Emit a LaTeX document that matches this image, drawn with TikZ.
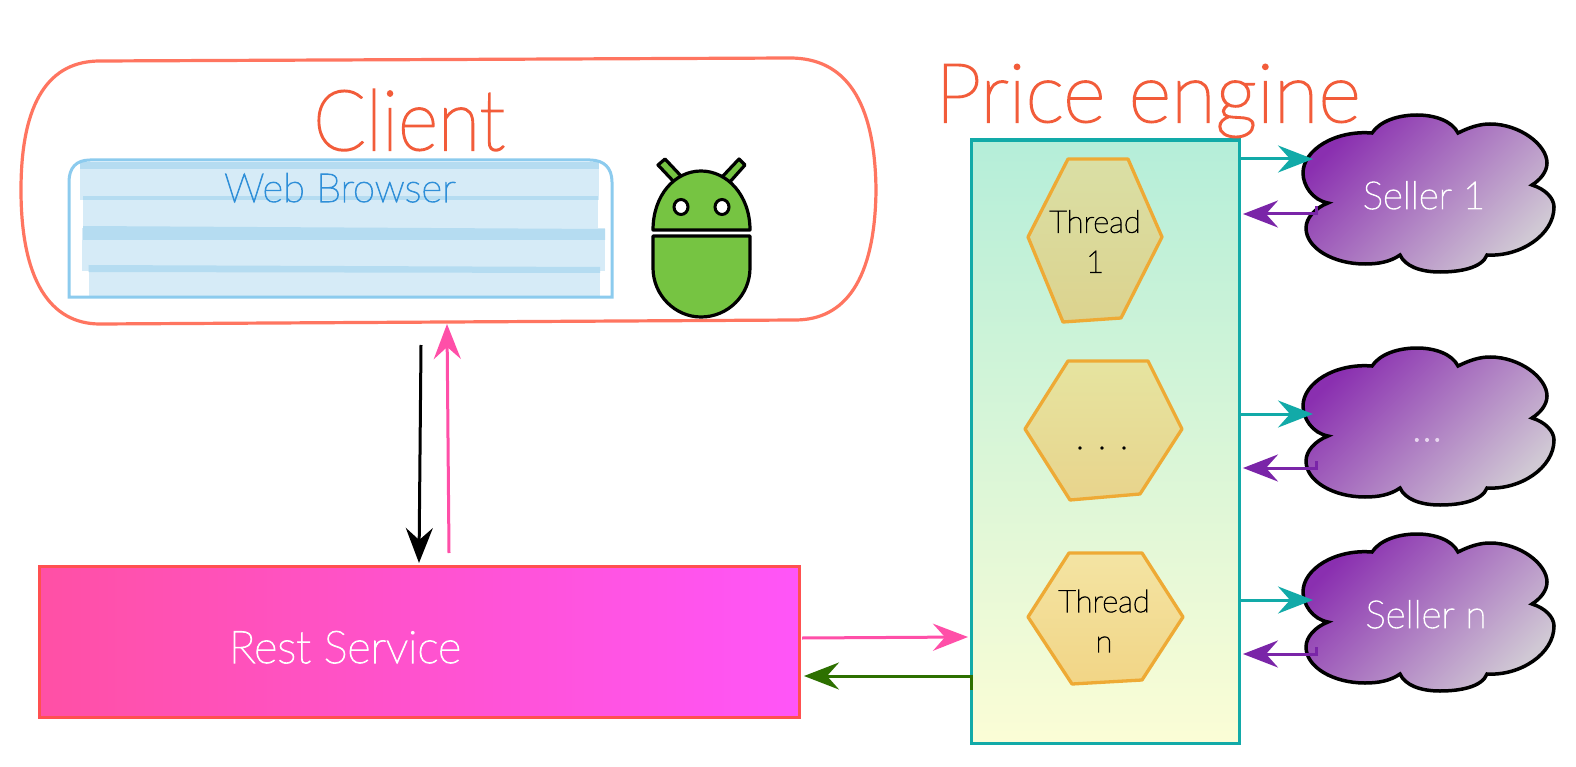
\documentclass[tikz,border=0pt]{standalone}
\usepackage{fontspec}
\setmainfont{Lato Thin}[FakeBold=2.5]
\usetikzlibrary{arrows.meta}
\definecolor{titlered}{HTML}{F25C3A}
\definecolor{clientline}{HTML}{FF7560}
\definecolor{webline}{HTML}{8CCBEE}
\definecolor{weblight}{HTML}{D6EBF7}
\definecolor{webdark}{HTML}{B5DCF1}
\definecolor{webtext}{HTML}{2F8FD8}
\definecolor{droid}{HTML}{76C442}
\definecolor{teal}{HTML}{12AAA8}
\definecolor{hexline}{HTML}{EEAA35}
\definecolor{pinkline}{HTML}{FF4FA8}
\definecolor{greenline}{HTML}{2D7000}
\definecolor{purpleline}{HTML}{7A25A8}
\definecolor{cloudA}{HTML}{8A2FB0}
\definecolor{cloudB}{HTML}{D0C8D4}
\definecolor{TopEng}{HTML}{B5EED9}
\definecolor{BotEng}{HTML}{FBFDD6}
\definecolor{HexAa}{HTML}{DADFA5}
\definecolor{HexAb}{HTML}{DCD38E}
\definecolor{HexBa}{HTML}{E6E4A0}
\definecolor{HexBb}{HTML}{E8D48C}
\definecolor{HexCa}{HTML}{F3E4A3}
\definecolor{HexCb}{HTML}{F2D586}
\definecolor{restline}{HTML}{FF5050}
\definecolor{restA}{HTML}{FF50A5}
\definecolor{restB}{HTML}{FF55F8}
\tikzset{
  bigarrow/.style={line width=3pt,-{Stealth[length=35pt,width=27pt,inset=12pt]}},
  hexbox/.style={draw=hexline,line width=3.3pt,line join=round},
  hexlabel/.style={align=center,font=\fontsize{31}{40}\selectfont,text=black},
  sellerlabel/.style={font=\fontsize{38.5}{44}\selectfont,text=white},
  cloudbox/.style={draw=black,line width=3.5pt,left color=cloudA,right color=cloudB,shading angle=45},
  droidpart/.style={draw=black,line width=3.2pt,fill=droid,line join=round},
  tick/.style={line width=3pt}
}
\newcommand{\cloudshape}{%
  (1372,133) .. controls (1380,121) and (1398,115) .. (1417,115)
  .. controls (1435,115) and (1452,121) .. (1458,133)
  .. controls (1470,127) and (1480,124) .. (1490,124)
  .. controls (1520,124) and (1547,145) .. (1547,163)
  .. controls (1547,172) and (1540,180) .. (1532,185)
  .. controls (1545,189) and (1554,198) .. (1554,207)
  .. controls (1554,235) and (1520,257) .. (1487,255)
  .. controls (1482,268) and (1460,272) .. (1440,272)
  .. controls (1420,272) and (1405,266) .. (1400,255)
  .. controls (1390,262) and (1378,264) .. (1365,264)
  .. controls (1333,264) and (1306,248) .. (1306,228)
  .. controls (1306,218) and (1315,208) .. (1328,203)
  .. controls (1312,200) and (1303,185) .. (1303,173)
  .. controls (1303,150) and (1335,130) .. (1372,133) -- cycle}
\begin{document}
\begin{tikzpicture}[x=1pt,y=-1pt]
\useasboundingbox (0,0) rectangle (1576,767);
\fill[white] (0,0) rectangle (1576,767);

% Client
\draw[clientline,line width=3.2pt]
  (100,61) -- (790,58)
  .. controls (845,58) and (875,100) .. (876,190)
  .. controls (875,280) and (845,320) .. (795,320)
  -- (100,324)
  .. controls (50,324) and (21,280) .. (21,190)
  .. controls (21,100) and (50,61) .. (100,61) -- cycle;
\coordinate (clientbottom) at (447,324);
\node[font=\fontsize{84}{90}\selectfont,text=titlered,anchor=base,xscale=.92] (clienttitle) at (409,150) {Client};

% Web browser
\fill[weblight] (80,163) rectangle (599,200);
\fill[weblight] (83,200) rectangle (598,228);
\fill[weblight] (82,228) rectangle (605,271);
\fill[weblight] (88.5,271) rectangle (600,297);
\fill[webdark] (80,162) rectangle (599,169);
\fill[webdark] (83,196) rectangle (598,200);
\fill[webdark] (83,226) -- (605,229) -- (605,240) -- (83,240) -- cycle;
\fill[webdark] (88.5,265) -- (600,267) -- (600,273) -- (88.5,272) -- cycle;
\draw[webline,line width=3pt] (69,297) -- (69,182) .. controls (69,168) and (76,160) .. (90,160)
  -- (590,160) .. controls (604,160) and (612,168) .. (612,182) -- (612,297) -- cycle;
\node[font=\fontsize{40}{44}\selectfont,text=webtext,anchor=base] (web) at (340,202) {Web Browser};

% Android
\draw[droidpart] (658,165) -- (665,159) -- (682,177) -- (675,183) -- cycle;
\draw[droidpart] (745,165) -- (739,159) -- (722,177) -- (729,183) -- cycle;
\draw[droidpart] (653,230) .. controls (653,195) and (675,171) .. (701,171)
  .. controls (727,171) and (750,195) .. (750,230) -- cycle;
\draw[droidpart] (653,236) -- (750,236) -- (750,268)
  .. controls (750,295) and (728,317) .. (701,317)
  .. controls (675,317) and (653,295) .. (653,268) -- cycle;
\draw[draw=black,line width=3pt,fill=white] (681,207) ellipse[x radius=7,y radius=7.5];
\draw[draw=black,line width=3pt,fill=white] (722,207) ellipse[x radius=7,y radius=7.5];

% Rest service
\node[draw=restline,line width=3.2pt,left color=restA,right color=restB,
  minimum width=760pt,minimum height=151pt,inner sep=0pt,anchor=north west] (rest) at (37.5,565) {};
\node[font=\fontsize{45}{48}\selectfont,text=white,anchor=base] (resttext) at (345,663) {Rest Service};

% Price engine
\node[draw=teal,line width=3.2pt,top color=TopEng,bottom color=BotEng,
  minimum width=268pt,minimum height=603pt,inner sep=0pt,anchor=north west] (engine) at (970,138.5) {};
\node[font=\fontsize{82}{86}\selectfont,text=titlered,anchor=base] (enginetitle) at (1148,122) {Price engine};

% Threads
\draw[hexbox,top color=HexAa,bottom color=HexAb]
  (1028,237) -- (1068,159) -- (1128,159) -- (1162,237) -- (1121,318) -- (1063,322) -- cycle;
\node[hexlabel] (thread1) at (1095,241.5) {Thread\\1};
\draw[hexbox,top color=HexBa,bottom color=HexBb]
  (1025,429) -- (1068,361) -- (1148,361) -- (1182,429) -- (1140,494) -- (1070,500) -- cycle;
\node[hexlabel,font=\fontsize{36}{40}\selectfont] (threaddots) at (1102,448) {. . .};
\draw[hexbox,top color=HexCa,bottom color=HexCb]
  (1028,617) -- (1069,553) -- (1142,553) -- (1183,617) -- (1142,680) -- (1072,684) -- cycle;
\node[hexlabel] (threadn) at (1104,621) {Thread\\n};

% Sellers
\path[cloudbox] \cloudshape;
\node[sellerlabel,anchor=base] (seller1) at (1424,209) {Seller 1};
\begin{scope}[shift={(0,233)}]
  \path[cloudbox] \cloudshape;
\end{scope}
\node[font=\fontsize{44}{48}\selectfont,text=white!80!cloudA,anchor=base] (seller2) at (1427,441) {...};
\begin{scope}[shift={(0,419)}]
  \path[cloudbox] \cloudshape;
\end{scope}
\node[sellerlabel,anchor=base] (seller3) at (1426,628) {Seller n};

% Connectors
\coordinate (blackstart) at (421,345);
\coordinate (blackend) at (419,563);
\coordinate (pinkstart) at (449,553);
\draw[bigarrow,black] (blackstart) -- (blackend);
\draw[bigarrow,pinkline] (pinkstart) -- (clientbottom);
\coordinate (restout) at (802,638);
\coordinate (enginein) at (968,637);
\draw[bigarrow,pinkline] (restout) -- (enginein);
\coordinate (engineout) at (973,676);
\coordinate (restin) at (804,676);
\draw[bigarrow,greenline] (engineout) -- (restin);
\coordinate (greentick) at (971,690);
\draw[tick,greenline] (971,674.5) -- (greentick);

\foreach \cy/\py in {159/214,414/468,600/654}{
  \coordinate (cs) at (1240,\cy);
  \coordinate (ce) at (1313,\cy);
  \coordinate (ps) at (1318,\py);
  \coordinate (pe) at (1243,\py);
  \draw[bigarrow,teal] (cs) -- (ce);
  \draw[bigarrow,purpleline] (ps) -- (pe);
  \draw[tick,purpleline] (ps) ++(-1.5,1.5) -- ++(0,-9);
}
\end{tikzpicture}
\end{document}
